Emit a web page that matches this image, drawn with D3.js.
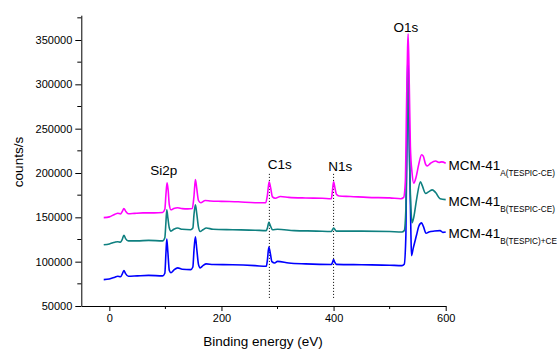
<!DOCTYPE html>
<html>
<head>
<meta charset="utf-8">
<script src="https://cdn.jsdelivr.net/npm/d3@7"></script>
<style>
  body { margin: 0; background: #fff; }
  svg { display: block; font-family: "Liberation Sans", Arial, sans-serif; }
</style>
</head>
<body>
<svg width="557" height="349"></svg>
<script>
// ** DATA ** //
// [binding energy (eV), counts/s]
const seriesA = [
  [-10, 149700], [0, 150500], [10, 153500], [15, 154600], [20, 153800], [23, 156500],
  [26, 160000], [29, 157000], [34, 154000], [45, 154500], [60, 155000], [80, 155000],
  [95, 155500], [99, 159000], [101, 176000], [103, 189000], [105, 180000], [107, 164000],
  [110, 158500], [115, 160000], [122, 160800], [130, 159800], [140, 159500], [148, 160000],
  [151, 174000], [153.5, 192500], [156, 182000], [159, 169000], [163, 166500], [171, 169000],
  [180, 168500], [200, 168000], [230, 167500], [260, 166500], [279, 166500], [282, 175000],
  [285, 190000], [287.5, 184000], [291, 173000], [296, 171500], [305, 173500], [320, 172500],
  [350, 171800], [380, 171500], [396, 171000], [398, 180000], [400, 190000], [402.5, 183000],
  [405, 176000], [410, 174000], [430, 173500], [460, 172500], [500, 172000], [520, 171000],
  [525, 172500], [528, 190000], [530, 270000], [532, 340000], [533, 357000], [535, 300000],
  [537, 230000], [540, 200000], [543, 188500], [547, 195000], [552, 210000], [557, 220500],
  [560, 219000], [564, 210000], [567, 208000], [573, 211000], [582, 213500], [588, 212000],
  [593, 212500], [600, 211000]
];

const seriesB = [
  [-10, 119000], [0, 120000], [10, 122000], [15, 122500], [20, 122000], [23, 125000],
  [26, 129800], [29, 126000], [34, 123500], [50, 123500], [70, 124000], [95, 123500],
  [99, 127000], [101, 145000], [102.5, 158500], [104.5, 149000], [107, 138000], [110, 134500],
  [115, 136500], [122, 138000], [130, 136500], [145, 136000], [149, 138000], [151, 153000],
  [153.5, 164000], [156, 154000], [159, 139000], [162, 134000], [167, 136000], [173, 138000],
  [185, 136500], [220, 136000], [260, 135500], [280, 135000], [282, 138000], [284.5, 144500],
  [287, 141000], [291, 136000], [300, 136500], [330, 135000], [370, 134500], [396, 134000],
  [398, 136000], [400, 138000], [402, 136500], [405, 134500], [450, 134500], [500, 134000],
  [522, 133500], [526, 135000], [529, 160000], [531, 250000], [532.5, 320000], [534, 270000],
  [536, 200000], [538, 160000], [540, 144000], [543, 150000], [548, 170000], [555, 190000],
  [558, 186000], [564, 177000], [570, 179000], [576, 181000], [582, 178000], [590, 171000],
  [600, 170000]
];

const seriesC = [
  [-10, 79800], [0, 80500], [10, 82500], [15, 83500], [20, 83000], [23, 86000],
  [26, 90000], [29, 86500], [34, 83500], [50, 84000], [70, 84500], [95, 84000],
  [99, 87000], [101, 110000], [102.5, 125500], [104.5, 110000], [107, 90000], [110, 87500],
  [115, 90500], [122, 93000], [130, 91500], [145, 91000], [149, 94000], [151, 113000],
  [153.5, 128000], [156, 114000], [159, 97000], [162, 93000], [167, 95500], [173, 97500],
  [185, 96800], [220, 96500], [260, 95500], [280, 94800], [282, 102000], [284.5, 116500],
  [287, 110000], [290, 100000], [295, 98500], [300, 100300], [320, 98500], [350, 97500],
  [396, 96800], [398, 99000], [400, 102300], [402, 99500], [405, 97000], [450, 96500],
  [500, 96000], [522, 95500], [526, 97000], [529, 130000], [531, 260000], [532.5, 335000],
  [534, 290000], [536, 200000], [538, 130000], [539, 106800], [542, 115000], [548, 130000],
  [552, 140000], [557, 143700], [560, 140000], [565, 132000], [570, 133500], [580, 134500],
  [590, 135000], [595, 133000], [600, 133500]
];

const xTicks = [0, 200, 400, 600];
const xMinor = [100, 300, 500];
const yTicks = [50000, 100000, 150000, 200000, 250000, 300000, 350000];
const yMinor = [75000, 125000, 175000, 225000, 275000, 325000, 375000];

// peak labels: [text, eV, counts]
const peakLabels = [["Si2p", 97, 198000], ["C1s", 304, 204500], ["N1s", 412, 202000], ["O1s", 529, 359500]];
const markerLines = [285.5, 400];

const legend = [
  { name: "MCM-41", sub: "A(TESPIC-CE)", color: "#ff00ff", data: seriesA, y: 169.5 },
  { name: "MCM-41", sub: "B(TESPIC-CE)", color: "#0f8080", data: seriesB, y: 205.5 },
  { name: "MCM-41", sub: "B(TESPIC)+CE", color: "#0000ff", data: seriesC, y: 237.5 }
];

// ** SCALES ** //
const svg = d3.select("svg");
const x = d3.scaleLinear().domain([-50, 600]).range([81.3, 445.7]);
const y = d3.scaleLinear().domain([50000, 350000]).range([306, 40]);
const yTop = 378000;

// ** AXES ** //
const xAxis = svg.append("g").attr("transform", "translate(0,306)")
  .call(d3.axisBottom(x).tickValues(xTicks).tickSize(5).tickSizeOuter(0).tickPadding(3));
xAxis.append("g").selectAll("line").data(xMinor).enter().append("line")
  .attr("x1", d => x(d)).attr("x2", d => x(d)).attr("y1", 0).attr("y2", 3).attr("stroke", "#000");

const yAxis = svg.append("g").attr("transform", "translate(81.3,0)")
  .call(d3.axisLeft(y.copy().domain([50000, yTop]).range([306, y(yTop)]))
    .tickValues(yTicks).tickSize(6).tickSizeOuter(0).tickPadding(3).tickFormat(d3.format("d")));
yAxis.append("g").selectAll("line").data(yMinor).enter().append("line")
  .attr("x1", -4).attr("x2", 0).attr("y1", d => y(d)).attr("y2", d => y(d)).attr("stroke", "#000");

svg.selectAll(".tick text").attr("font-size", 11).attr("fill", "#000")
  .style("font-family", "'Liberation Sans', Arial, sans-serif");
svg.selectAll(".domain, .tick line").attr("stroke", "#000");

svg.append("text").attr("x", 263).attr("y", 346).attr("text-anchor", "middle")
  .attr("font-size", 13.5).text("Binding energy (eV)");
svg.append("text").attr("transform", "translate(23,162) rotate(-90)").attr("text-anchor", "middle")
  .attr("font-size", 13.5).text("counts/s");

// ** MARKER LINES ** //
svg.append("g").selectAll("line").data(markerLines).enter().append("line")
  .attr("x1", d => x(d)).attr("x2", d => x(d))
  .attr("y1", y(199000)).attr("y2", y(57000))
  .attr("stroke", "#000").attr("stroke-width", 1).attr("stroke-dasharray", "1,2");

// ** SPECTRA ** //
const line = d3.line().x(d => x(d[0])).y(d => y(d[1])).curve(d3.curveMonotoneX);
svg.append("g").selectAll("path").data(legend.slice().reverse()).enter().append("path")
  .attr("d", d => line(d.data)).attr("fill", "none")
  .attr("stroke", d => d.color).attr("stroke-width", 1.6).attr("stroke-linejoin", "round");

// ** LABELS ** //
svg.append("g").selectAll("text").data(peakLabels).enter().append("text")
  .attr("x", d => x(d[1])).attr("y", d => y(d[2])).attr("text-anchor", "middle")
  .attr("font-size", 13.5).text(d => d[0]);

const leg = svg.append("g").selectAll("text").data(legend).enter().append("text")
  .attr("x", 448.5).attr("y", d => d.y).attr("font-size", 13.5);
leg.append("tspan").text(d => d.name);
leg.append("tspan").attr("font-size", 8.2).attr("dy", 6.5).text(d => d.sub);
</script>
</body>
</html>
